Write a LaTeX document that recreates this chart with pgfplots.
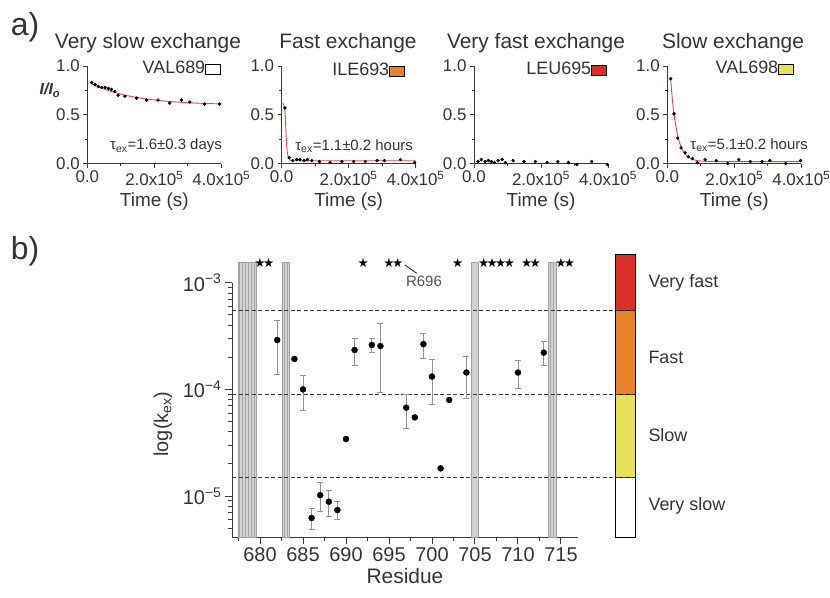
\documentclass[border=0pt]{standalone}
\usepackage{fontspec}
\setmainfont{Liberation Sans}
\newfontfamily\dejavu{DejaVu Sans}
\usepackage{pgfplots}
\usepackage{pgfplotstable}
\pgfplotsset{compat=1.18}
\usetikzlibrary{patterns}
\definecolor{txt}{HTML}{333333}
\definecolor{ax}{HTML}{3A3A3A}
\definecolor{fitred}{HTML}{E0484A}
\definecolor{cbred}{HTML}{D9302A}
\definecolor{cborange}{HTML}{E8822A}
\definecolor{cbyellow}{HTML}{E9E05A}
\definecolor{hatch}{HTML}{D2D2D2}
\newcommand\lgbox[1]{{\setlength{\fboxsep}{0pt}\setlength{\fboxrule}{0.8bp}\fcolorbox{black}{#1}{\rule{0pt}{9bp}\rule{14bp}{0pt}}}}

\pgfplotsset{
  tp/.style={
    scale only axis, width=134bp, height=97.5bp, anchor=south west,
    xmin=0, xmax=4, ymin=0, ymax=1,
    axis x line*=bottom, axis y line*=left,
    axis line style={ax, line width=0.9bp},
    tick style={ax, line width=0.9bp},
    tick align=outside, major tick length=4bp, minor tick length=2.5bp,
    xtick={0,2,4}, xticklabels={0.0,2.0x10\textsuperscript{5},4.0x10\textsuperscript{5}},
    minor xtick={1,3},
    ytick={0,0.5,1}, yticklabels={0.0,0.5,1.0}, minor ytick={0.25,0.75},
    ticklabel style={font=\fontsize{17}{17}\selectfont, text=txt},
    xlabel={Time (s)}, xlabel style={font=\fontsize{19}{19}\selectfont, text=txt},
    clip=false,
  },
  dots/.style={only marks, mark=*, mark size=1.5bp, black},
  fit/.style={fitred, line width=0.9bp, smooth, no marks},
}

% residue, k_ex, error plus, error minus
\pgfplotstableread{
x y ep em
682 2.90e-4 1.50e-4 1.51e-4
685 1.00e-4 3.6e-5 3.7e-5
686 6.24e-6 1.38e-6 1.35e-6
687 1.02e-5 3.2e-6 3.05e-6
688 8.86e-6 2.34e-6 2.45e-6
689 7.40e-6 1.46e-6 1.33e-6
691 2.34e-4 6.5e-5 6.5e-5
693 2.61e-4 3.9e-5 4.0e-5
694 2.55e-4 1.61e-4 1.62e-4
697 6.75e-5 2.3e-5 2.45e-5
699 2.66e-4 7.0e-5 7.1e-5
700 1.32e-4 6.1e-5 5.9e-5
704 1.44e-4 6.0e-5 6.2e-5
710 1.44e-4 4.2e-5 4.2e-5
713 2.21e-4 5.9e-5 5.5e-5
}\errdata
\pgfplotstableread{
x y
682 2.90e-4
684 1.93e-4
685 1.00e-4
686 6.24e-6
687 1.02e-5
688 8.86e-6
689 7.40e-6
690 3.43e-5
691 2.34e-4
693 2.61e-4
694 2.55e-4
697 6.75e-5
698 5.47e-5
699 2.66e-4
700 1.32e-4
701 1.82e-5
702 7.96e-5
704 1.44e-4
710 1.44e-4
713 2.21e-4
}\kdata

\begin{document}
\begin{tikzpicture}
% ---------- panel a1 ----------
\begin{axis}[tp, at={(87.3bp,-163.5bp)}]
\addplot[fit] coordinates {(0.1,0.822)(0.5,0.763)(1,0.711)(1.5,0.676)(2,0.652)(2.5,0.635)(3,0.624)(3.5,0.616)(4,0.611)};
\addplot[dots] coordinates {(0.13,0.83)(0.23,0.81)(0.33,0.79)(0.43,0.78)(0.53,0.78)(0.63,0.77)(0.72,0.76)(0.82,0.74)(0.92,0.70)(1.12,0.69)(1.47,0.67)(1.77,0.65)(2.11,0.65)(2.46,0.62)(2.81,0.65)(3.06,0.63)(3.50,0.61)(3.95,0.61)};
\end{axis}
% ---------- panel a2 ----------
\begin{axis}[tp, at={(281.6bp,-163.5bp)}]
\addplot[fit] coordinates {(0.04,0.62)(0.1,0.55)(0.13,0.32)(0.16,0.15)(0.2,0.06)(0.25,0.035)(0.4,0.028)(1,0.028)(4,0.028)};
\addplot[dots] coordinates {(0.1,0.57)(0.23,0.06)(0.33,0.03)(0.45,0.04)(0.55,0.04)(0.67,0.03)(0.77,0.04)(0.9,0.03)(1.13,0.02)(1.45,0.01)(1.8,0.02)(2.15,0.02)(2.5,0.02)(2.85,0.03)(3.07,0.03)(3.55,0.04)(3.97,0.01)};
\end{axis}
% ---------- panel a3 ----------
\begin{axis}[tp, at={(474bp,-163.5bp)}]
\addplot[dots] coordinates {(0.12,0.02)(0.22,0.04)(0.33,0.02)(0.43,0.03)(0.52,0.02)(0.61,0.01)(0.72,0.03)(0.84,0.04)(0.94,0.01)(1.17,0.03)(1.49,0.02)(1.83,0.02)(2.18,0.01)(2.5,0.02)(2.82,0.01)(3.07,-0.01)(3.51,0.02)(3.98,-0.01)};
\end{axis}
% ---------- panel a4 ----------
\begin{axis}[tp, at={(667.3bp,-163.5bp)}]
\addplot[fit] coordinates {(0.1,0.87)(0.15,0.66)(0.2,0.51)(0.3,0.30)(0.4,0.18)(0.5,0.112)(0.6,0.073)(0.8,0.037)(1.0,0.026)(1.5,0.02)(4,0.02)};
\addplot[dots] coordinates {(0.1,0.87)(0.2,0.51)(0.31,0.26)(0.41,0.16)(0.53,0.11)(0.63,0.07)(0.75,0.05)(0.9,0.01)(1.13,0.04)(1.46,0.03)(1.8,0.0)(2.13,0.04)(2.48,0.02)(2.83,0.02)(3.06,0.03)(3.53,0.0)(3.98,0.03)};
\end{axis}

% ---------- panel b ----------
\begin{axis}[at={(232bp,-537bp)}, anchor=south west, scale only axis,
  width=346bp, height=254.3bp,
  xmin=676.74, xmax=716.98, ymode=log, ymin=4.137e-6, ymax=1e-3,
  axis x line*=bottom, axis y line*=left,
  axis line style={ax, line width=1bp}, tick style={ax, line width=1bp},
  tick align=outside, major tick length=7bp, minor tick length=4bp,
  xtick={680,685,690,695,700,705,710,715},
  xticklabels={680,685,690,695,700,705,710,715},
  minor xtick={677.5,682.5,687.5,692.5,697.5,702.5,707.5,712.5},
  ytick={1e-5,1e-4,1e-3},
  yticklabels={10\textsuperscript{−5},10\textsuperscript{−4},10\textsuperscript{−3}},
  minor ytick={5e-6,6e-6,7e-6,8e-6,9e-6,2e-5,3e-5,4e-5,5e-5,6e-5,7e-5,8e-5,9e-5,2e-4,3e-4,4e-4,5e-4,6e-4,7e-4,8e-4,9e-4},
  ticklabel style={font=\fontsize{20}{20}\selectfont, text=txt},
  xlabel={Residue}, xlabel style={font=\fontsize{21}{21}\selectfont, text=txt},
  clip=false]
% hatched bars (residues without data)
\addplot[draw=gray!75, line width=0.8bp, fill=hatch, postaction={pattern=vertical lines, pattern color=gray!70}] coordinates {(677.45,4.137e-6)(677.45,1.55e-3)(679.53,1.55e-3)(679.53,4.137e-6)} -- cycle;
\addplot[draw=gray!75, line width=0.8bp, fill=hatch, postaction={pattern=vertical lines, pattern color=gray!70}] coordinates {(682.62,4.137e-6)(682.62,1.55e-3)(683.42,1.55e-3)(683.42,4.137e-6)} -- cycle;
\addplot[draw=gray!75, line width=0.8bp, fill=hatch, postaction={pattern=vertical lines, pattern color=gray!70}] coordinates {(704.55,4.137e-6)(704.55,1.55e-3)(705.45,1.55e-3)(705.45,4.137e-6)} -- cycle;
\addplot[draw=gray!75, line width=0.8bp, fill=hatch, postaction={pattern=vertical lines, pattern color=gray!70}] coordinates {(713.55,4.137e-6)(713.55,1.55e-3)(714.45,1.55e-3)(714.45,4.137e-6)} -- cycle;
% colour bar
\addplot[draw=black, line width=0.9bp, fill=cbred] coordinates {(721.36,5.55e-4)(723.69,5.55e-4)(723.69,1.858e-3)(721.36,1.858e-3)} -- cycle;
\addplot[draw=black, line width=0.9bp, fill=cborange] coordinates {(721.36,8.9e-5)(723.69,8.9e-5)(723.69,5.55e-4)(721.36,5.55e-4)} -- cycle;
\addplot[draw=black, line width=0.9bp, fill=cbyellow] coordinates {(721.36,1.5e-5)(723.69,1.5e-5)(723.69,8.9e-5)(721.36,8.9e-5)} -- cycle;
\addplot[draw=black, line width=0.9bp, fill=white] coordinates {(721.36,4.137e-6)(723.69,4.137e-6)(723.69,1.5e-5)(721.36,1.5e-5)} -- cycle;
% dashed class limits
\addplot[ax, line width=0.8bp, dash pattern=on 4bp off 2.5bp] coordinates {(676.74,5.55e-4)(723.69,5.55e-4)};
\addplot[ax, line width=0.8bp, dash pattern=on 4bp off 2.5bp] coordinates {(676.74,8.9e-5)(723.69,8.9e-5)};
\addplot[ax, line width=0.8bp, dash pattern=on 4bp off 2.5bp] coordinates {(676.74,1.5e-5)(723.69,1.5e-5)};
% error bars
\addplot[only marks, mark=none, error bars/.cd, y dir=both, y explicit,
  error bar style={gray!85, line width=0.9bp},
  error mark options={rotate=90, gray!85, mark size=3bp, line width=0.9bp}]
  table[x=x, y=y, y error plus=ep, y error minus=em] {\errdata};
% points
\addplot[only marks, mark=*, mark size=3bp, black] table[x=x, y=y] {\kdata};
% stars
\addplot[only marks, mark=text, text mark={\dejavu ★}, text mark as node,
  text mark style={font=\fontsize{12.5}{12.5}\selectfont, inner sep=0pt, black}]
  coordinates {(680,1.53e-3)(681,1.53e-3)(692,1.53e-3)(695,1.53e-3)(696,1.53e-3)(703,1.53e-3)(706,1.53e-3)(707,1.53e-3)(708,1.53e-3)(709,1.53e-3)(711,1.53e-3)(712,1.53e-3)(715,1.53e-3)(716,1.53e-3)};
\addplot[ax, line width=1bp] coordinates {(696.86,1.466e-3)(698.22,1.225e-3)};
\node[font=\fontsize{15}{15}\selectfont, text=txt!85] at (axis cs:699.07,1.02e-3) {R696};
\end{axis}

% ---------- texts ----------
\node[font=\fontsize{32}{32}\selectfont, text=txt] at (25bp,-27bp) {a)};
\node[font=\fontsize{32}{32}\selectfont, text=txt] at (25bp,-251bp) {b)};
\node[font=\fontsize{21}{21}\selectfont, text=txt] at (148bp,-43bp) {Very slow exchange};
\node[font=\fontsize{21}{21}\selectfont, text=txt] at (348bp,-43bp) {Fast exchange};
\node[font=\fontsize{21}{21}\selectfont, text=txt] at (536bp,-43bp) {Very fast exchange};
\node[font=\fontsize{21}{21}\selectfont, text=txt] at (733bp,-43bp) {Slow exchange};
\node[font=\fontsize{16}{16}\selectfont\bfseries\itshape, text=txt] at (50bp,-90bp) {I/I\textsubscript{o}};
\node[anchor=east, inner sep=0pt, font=\fontsize{18}{18}\selectfont, text=txt] at (221bp,-68bp) {VAL689\lgbox{white}};
\node[anchor=east, inner sep=0pt, font=\fontsize{18}{18}\selectfont, text=txt] at (405bp,-70bp) {ILE693\lgbox{cborange}};
\node[anchor=east, inner sep=0pt, font=\fontsize{18}{18}\selectfont, text=txt] at (607bp,-69bp) {LEU695\lgbox{cbred}};
\node[anchor=east, inner sep=0pt, font=\fontsize{18}{18}\selectfont, text=txt] at (794bp,-68bp) {VAL698\lgbox{cbyellow}};
\node[anchor=east, inner sep=0pt, font=\fontsize{15}{15}\selectfont, text=txt] at (222bp,-146bp) {τ\textsubscript{ex}=1.6±0.3 days};
\node[anchor=east, inner sep=0pt, font=\fontsize{15}{15}\selectfont, text=txt] at (413bp,-146bp) {τ\textsubscript{ex}=1.1±0.2 hours};
\node[anchor=east, inner sep=0pt, font=\fontsize{15}{15}\selectfont, text=txt] at (808bp,-145bp) {τ\textsubscript{ex}=5.1±0.2 hours};
\node[rotate=90, font=\fontsize{20}{20}\selectfont, text=txt] at (163bp,-424bp) {log(k\textsubscript{ex})};
\node[anchor=west, font=\fontsize{18}{18}\selectfont, text=txt] at (645bp,-283bp) {Very fast};
\node[anchor=west, font=\fontsize{18}{18}\selectfont, text=txt] at (645bp,-357bp) {Fast};
\node[anchor=west, font=\fontsize{18}{18}\selectfont, text=txt] at (645bp,-435bp) {Slow};
\node[anchor=west, font=\fontsize{18}{18}\selectfont, text=txt] at (645bp,-506bp) {Very slow};
\pgfresetboundingbox
\path[use as bounding box] (0,0) rectangle (830bp,-598bp);
\end{tikzpicture}
\end{document}
